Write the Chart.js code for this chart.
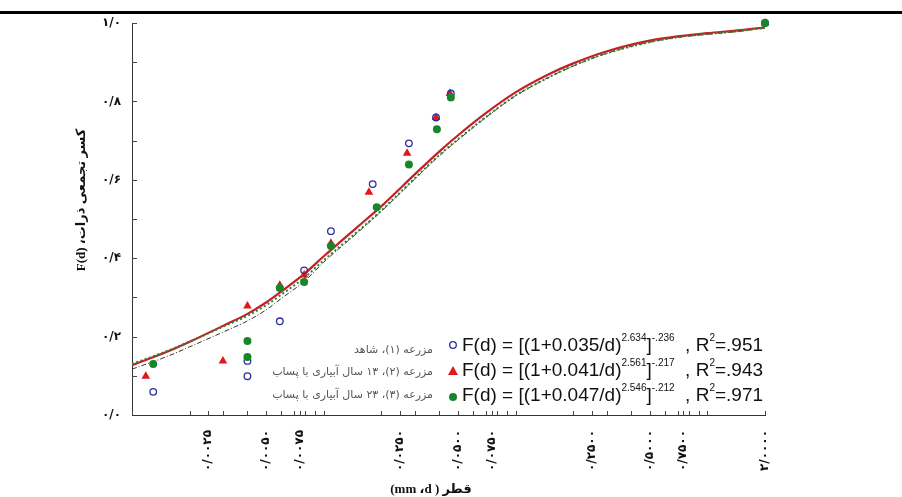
<!DOCTYPE html>
<html><head><meta charset="utf-8">
<script src="https://cdn.jsdelivr.net/npm/chart.js@4.4.0/dist/chart.umd.min.js"></script>
<style>html,body{margin:0;padding:0;background:#fff;}canvas{display:block;}</style>
</head><body>
<canvas id="c" width="902" height="497"></canvas>
<script>
// ---- data ----
const xTickValues = [0.0025, 0.005, 0.0075, 0.025, 0.05, 0.075, 0.25, 0.5, 0.75, 2];
const xTickLabels = ['۰/۰۰۲۵','۰/۰۰۵۰','۰/۰۰۷۵','۰/۰۲۵۰','۰/۰۵۰۰','۰/۰۷۵۰','۰/۲۵۰۰','۰/۵۰۰۰','۰/۷۵۰۰','۲/۰۰۰۰'];
const yTickValues = [0, 0.2, 0.4, 0.6, 0.8, 1.0];
const yTickLabels = ['۰/۰','۰/۲','۰/۴','۰/۶','۰/۸','۱/۰'];

// farm 1 (control) observed
const farm1D = [0.00129, 0.0040, 0.0040, 0.0059, 0.0079, 0.0109, 0.0180, 0.0278, 0.0385, 0.0460, 2.0];
const farm1F = [0.059, 0.099, 0.138, 0.239, 0.369, 0.469, 0.589, 0.693, 0.759, 0.820, 1.0];
// farm 2 (13 yr wastewater) observed
const farm2D = [0.00118, 0.00298, 0.0040, 0.0059, 0.0079, 0.0109, 0.0172, 0.0272, 0.0385, 0.0455, 2.0];
const farm2F = [0.099, 0.138, 0.278, 0.331, 0.357, 0.438, 0.568, 0.668, 0.759, 0.820, 1.0];
// farm 3 (23 yr wastewater) observed
const farm3D = [0.00129, 0.0040, 0.0040, 0.0059, 0.0079, 0.0109, 0.0189, 0.0278, 0.0389, 0.0460, 2.0];
const farm3F = [0.130, 0.148, 0.189, 0.324, 0.339, 0.431, 0.530, 0.639, 0.729, 0.810, 1.0];

// fitted curves
const curveD = [0.001,0.0015,0.002,0.003,0.004,0.005,0.006,0.008,0.01,0.015,0.02,0.03,0.04,0.05,0.07,0.1,0.15,0.2,0.3,0.5,0.7,1.0,1.5,2.0];
const fit1F = [0.117,0.148,0.174,0.212,0.240,0.268,0.297,0.343,0.390,0.465,0.520,0.603,0.661,0.701,0.759,0.814,0.862,0.890,0.923,0.951,0.963,0.971,0.979,0.988];
const fit2F = [0.127,0.160,0.187,0.228,0.258,0.287,0.315,0.362,0.405,0.480,0.533,0.615,0.672,0.713,0.770,0.823,0.870,0.897,0.928,0.955,0.966,0.974,0.982,0.989];
const fit3F = [0.130,0.162,0.187,0.226,0.253,0.280,0.307,0.352,0.395,0.468,0.522,0.605,0.663,0.703,0.760,0.815,0.862,0.891,0.923,0.951,0.964,0.972,0.980,0.988];

const legendNames = ['مزرعه (۱)، شاهد', 'مزرعه (۲)، ۱۳ سال آبیاری با پساب', 'مزرعه (۳)، ۲۳ سال آبیاری با پساب'];
const legendA = ['0.035', '0.041', '0.047'];
const legendB = ['2.634', '2.561', '2.546'];
const legendC = ['-.236', '-.217', '-.212'];
const legendR2 = ['.951', '.943', '.971'];
const xTitle = '(mm ،d ) قطر';
const yTitle = '\u202Bکسر تجمعی ذرات، F(d)\u202C';

const pts = (xs, ys) => xs.map((x, i) => ({x: x, y: ys[i]}));

const BLUE = '#2b2f9e', RED = '#e3171b', GREEN = '#17862a';

const decorPlugin = {
  id: 'decor',
  afterDraw(chart) {
    const ctx = chart.ctx, xs = chart.scales.x, ys = chart.scales.y, ca = chart.chartArea;
    ctx.save();
    // top rule
    ctx.fillStyle = '#000';
    ctx.fillRect(0, 11, chart.width, 3);
    // inward ticks
    ctx.strokeStyle = '#444'; ctx.lineWidth = 1;
    ctx.beginPath();
    for (let v = 1; v <= 10; v++) {
      const y = Math.round(ys.getPixelForValue(v / 10)) + 0.5;
      ctx.moveTo(ca.left, y); ctx.lineTo(ca.left + 5, y);
    }
    const minor = [];
    for (let e = -3; e <= 0; e++) for (let k = 1; k <= 9; k++) { const v = k * Math.pow(10, e); if (v <= 2.0001) minor.push(v); }
    minor.push(2);
    minor.concat(xTickValues).forEach(v => {
      const x = Math.round(xs.getPixelForValue(v)) + 0.5;
      ctx.moveTo(x, ca.bottom); ctx.lineTo(x, ca.bottom - 4);
    });
    ctx.stroke();
    // y tick labels
    ctx.fillStyle = '#111';
    ctx.font = 'bold 12px "DejaVu Sans"';
    ctx.textAlign = 'right'; ctx.textBaseline = 'middle';
    yTickValues.forEach((v, i) => ctx.fillText(yTickLabels[i], ca.left - 11, ys.getPixelForValue(v)));
    // x tick labels (rotated)
    ctx.font = 'bold 12px "DejaVu Sans"';
    xTickValues.forEach((v, i) => {
      ctx.save();
      ctx.translate(xs.getPixelForValue(v), ca.bottom + 15);
      ctx.rotate(-Math.PI / 2);
      ctx.textAlign = 'right'; ctx.textBaseline = 'middle';
      ctx.fillText(xTickLabels[i], 0, 0);
      ctx.restore();
    });
    // axis titles
    ctx.font = 'bold 13px "Liberation Serif", "DejaVu Sans"';
    ctx.textAlign = 'center'; ctx.textBaseline = 'middle';
    ctx.fillText(xTitle, 431, 490);
    ctx.save();
    ctx.translate(82, 200);
    ctx.rotate(-Math.PI / 2);
    ctx.fillText(yTitle, 0, 0);
    ctx.restore();
    // legend
    const lineY = [344, 369, 394];
    const nameY = [350, 372, 395];
    for (let i = 0; i < 3; i++) {
      const cy = lineY[i];
      // persian label
      ctx.font = '11px "DejaVu Sans"';
      ctx.fillStyle = '#555';
      ctx.textAlign = 'right'; ctx.textBaseline = 'middle';
      ctx.fillText(legendNames[i], 433, nameY[i]);
      // marker
      const mx = 453;
      ctx.beginPath();
      if (i === 0) {
        ctx.strokeStyle = BLUE; ctx.lineWidth = 1.3; ctx.fillStyle = '#fff';
        ctx.arc(mx, cy + 1, 3.3, 0, Math.PI * 2); ctx.fill(); ctx.stroke();
      } else if (i === 1) {
        ctx.fillStyle = RED;
        ctx.moveTo(mx, cy - 3); ctx.lineTo(mx + 5, cy + 6); ctx.lineTo(mx - 5, cy + 6); ctx.closePath(); ctx.fill();
      } else {
        ctx.fillStyle = GREEN;
        ctx.arc(mx, cy + 3, 4, 0, Math.PI * 2); ctx.fill();
      }
      // equation
      ctx.fillStyle = '#111';
      ctx.textAlign = 'left'; ctx.textBaseline = 'alphabetic';
      const base = cy + 7;
      const segs = [
        {t: 'F(d) = [(1+' + legendA[i] + '/d)', s: false},
        {t: legendB[i], s: true},
        {t: ']', s: false},
        {t: legendC[i], s: true},
        {t: '  , R', s: false},
        {t: '2', s: true},
        {t: '=' + legendR2[i], s: false}
      ];
      let x = 462;
      segs.forEach(sg => {
        ctx.font = sg.s ? '10px "Liberation Sans"' : '19px "Liberation Sans"';
        ctx.fillText(sg.t, x, sg.s ? base - 10 : base);
        x += ctx.measureText(sg.t).width;
      });
    }
    ctx.restore();
  }
};

new Chart(document.getElementById('c'), {
  type: 'scatter',
  data: {
    datasets: [
      {label: 'farm3', data: pts(farm3D, farm3F), pointStyle: 'circle', pointRadius: 4, backgroundColor: GREEN, borderColor: GREEN, borderWidth: 0, order: 0, clip: false},
      {label: 'farm1', data: pts(farm1D, farm1F), pointStyle: 'circle', pointRadius: 3.3, backgroundColor: 'rgba(255,255,255,0)', borderColor: BLUE, borderWidth: 1.3, order: 1, clip: false},
      {label: 'farm2', data: pts(farm2D, farm2F), pointStyle: 'triangle', pointRadius: 5, backgroundColor: RED, borderColor: RED, borderWidth: 0, order: 2, clip: false},
      {label: 'fit3', data: pts(curveD, fit3F), showLine: true, pointRadius: 0, borderColor: '#2f7f2f', borderWidth: 2, borderDash: [2, 2.5], cubicInterpolationMode: 'monotone', order: 3},
      {label: 'fit2', data: pts(curveD, fit2F), showLine: true, pointRadius: 0, borderColor: '#c42026', borderWidth: 2.2, cubicInterpolationMode: 'monotone', order: 4},
      {label: 'fit1', data: pts(curveD, fit1F), showLine: true, pointRadius: 0, borderColor: '#333', borderWidth: 1, borderDash: [5, 2, 1, 2], cubicInterpolationMode: 'monotone', order: 5}
    ]
  },
  options: {
    responsive: false,
    devicePixelRatio: 1,
    animation: false,
    events: [],
    layout: {padding: {left: 132, right: 137, top: 23, bottom: 82}},
    plugins: {legend: {display: false}, tooltip: {enabled: false}, title: {display: false}},
    scales: {
      x: {type: 'logarithmic', min: 0.001, max: 2, ticks: {display: false}, grid: {display: false, drawTicks: false},
          border: {display: true, color: '#333', width: 1}, afterFit: s => { s.height = 0; }},
      y: {type: 'linear', min: 0, max: 1, ticks: {display: false}, grid: {display: false, drawTicks: false},
          border: {display: true, color: '#333', width: 1}, afterFit: s => { s.width = 0; }}
    }
  },
  plugins: [decorPlugin]
});
</script>
</body></html>
